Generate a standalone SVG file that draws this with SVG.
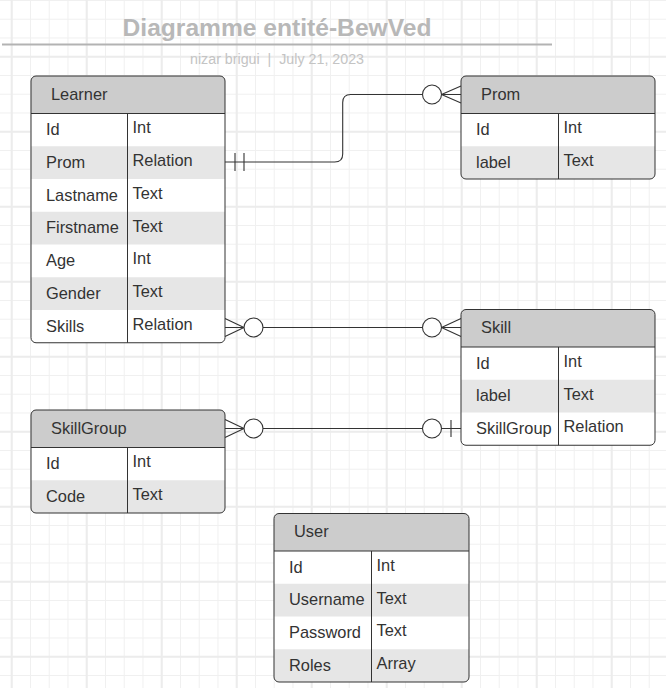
<svg xmlns="http://www.w3.org/2000/svg" width="666" height="688" viewBox="0 0 666 688">
<style>
.gt{stroke:#f0f0f0;stroke-width:1;fill:none}
.gk{stroke:#ececec;stroke-width:2;fill:none}
.hd{fill:#cccccc}
.alt{fill:#e6e6e6}
.body{fill:#ffffff}
.ol{fill:none;stroke:#333333;stroke-width:1}
.ln{stroke:#333333;stroke-width:1;fill:none}
.t{font-family:"Liberation Sans",Arial,sans-serif;font-size:16.4px;fill:#333333}
.cn{stroke:#333333;stroke-width:1.1;fill:none}
.cc{stroke:#333333;stroke-width:1.1;fill:#ffffff}
</style>
<defs>
<clipPath id="cLearner"><rect x="31" y="76" width="194" height="266.75" rx="5"/></clipPath>
<clipPath id="cProm"><rect x="461" y="76" width="194" height="103" rx="5"/></clipPath>
<clipPath id="cSkill"><rect x="461" y="309.5" width="194" height="135.75" rx="5"/></clipPath>
<clipPath id="cSG"><rect x="31" y="410" width="194" height="103" rx="5"/></clipPath>
<clipPath id="cUser"><rect x="274" y="513.5" width="195" height="168.5" rx="5"/></clipPath>
</defs>
<rect width="666" height="688" fill="#ffffff"/>
<g id="grid">
<path class="gt" d="M11.7,0V688M30.45,0V688M49.2,0V688M67.95,0V688M86.7,0V688M105.45,0V688M124.2,0V688M142.95,0V688M161.7,0V688M180.45,0V688M199.2,0V688M217.95,0V688M236.7,0V688M255.45,0V688M274.2,0V688M292.95,0V688M311.7,0V688M330.45,0V688M349.2,0V688M367.95,0V688M386.7,0V688M405.45,0V688M424.2,0V688M442.95,0V688M461.7,0V688M480.45,0V688M499.2,0V688M517.95,0V688M536.7,0V688M555.45,0V688M574.2,0V688M592.95,0V688M611.7,0V688M630.45,0V688M649.2,0V688
M0,0.45H666M0,19.2H666M0,37.95H666M0,56.7H666M0,75.45H666M0,94.2H666M0,112.95H666M0,131.7H666M0,150.45H666M0,169.2H666M0,187.95H666M0,206.7H666M0,225.45H666M0,244.2H666M0,262.95H666M0,281.7H666M0,300.45H666M0,319.2H666M0,337.95H666M0,356.7H666M0,375.45H666M0,394.2H666M0,412.95H666M0,431.7H666M0,450.45H666M0,469.2H666M0,487.95H666M0,506.7H666M0,525.45H666M0,544.2H666M0,562.95H666M0,581.7H666M0,600.45H666M0,619.2H666M0,637.95H666M0,656.7H666M0,675.45H666"/>
<path class="gk" d="M11.7,0V688M86.7,0V688M161.7,0V688M236.7,0V688M311.7,0V688M386.7,0V688M461.7,0V688M536.7,0V688M611.7,0V688M0,56.7H666M0,131.7H666M0,206.7H666M0,281.7H666M0,356.7H666M0,431.7H666M0,506.7H666M0,581.7H666M0,656.7H666"/>
</g>
<g id="title">
<text x="277" y="36" text-anchor="middle" font-family="'Liberation Sans',Arial,sans-serif" font-size="24.6" font-weight="bold" fill="#b8b8b8">Diagramme entité-BewVed</text>
<line x1="2" y1="44.5" x2="552" y2="44.5" stroke="#b3b3b3" stroke-width="2"/>
<text x="277" y="64" text-anchor="middle" font-family="'Liberation Sans',Arial,sans-serif" font-size="14" fill="#c4c4c4" textLength="174" lengthAdjust="spacingAndGlyphs" xml:space="preserve">nizar brigui  |  July 21, 2023</text>
</g>
<g id="connectors">
<path class="cn" d="M225,162H334.7Q342.7,162 342.7,154V102.5Q342.7,94.5 350.7,94.5H461"/>
<path class="cn" d="M235,153V171M244,153V171"/>
<path class="cn" d="M441.5,94.5L461,86M441.5,94.5L461,103"/>
<circle class="cc" cx="432" cy="94.5" r="9.5"/>
<path class="cn" d="M225,327.5H461M225,318.5L244,327.5L225,336.5M441.5,327.5L461,318.5M441.5,327.5L461,336.5"/>
<circle class="cc" cx="253.5" cy="327.5" r="9.5"/>
<circle class="cc" cx="432" cy="327.5" r="9.5"/>
<path class="cn" d="M225,428.5H461M225,419.5L244,428.5L225,437.5M451,420V437"/>
<circle class="cc" cx="253.5" cy="428.5" r="9.5"/>
<circle class="cc" cx="432" cy="428.5" r="9.5"/>
</g>
<g id="learner">
<g clip-path="url(#cLearner)">
<rect class="body" x="31" y="76" width="194" height="266.75"/>
<rect class="hd" x="31" y="76" width="194" height="37.5"/>
<rect class="alt" x="31" y="146.25" width="194" height="32.75"/>
<rect class="alt" x="31" y="211.75" width="194" height="32.75"/>
<rect class="alt" x="31" y="277.25" width="194" height="32.75"/>
</g>
<path class="ln" d="M31,113.5H225M127.5,113.5V342.75"/>
<rect class="ol" x="31" y="76" width="194" height="266.75" rx="5"/>
<text class="t" x="51" y="99.6">Learner</text>
<text class="t" x="46" y="135">Id</text><text class="t" x="132.5" y="133.3">Int</text>
<text class="t" x="46" y="167.8">Prom</text><text class="t" x="132.5" y="166">Relation</text>
<text class="t" x="46" y="200.5">Lastname</text><text class="t" x="132.5" y="198.8">Text</text>
<text class="t" x="46" y="233.3">Firstname</text><text class="t" x="132.5" y="231.5">Text</text>
<text class="t" x="46" y="266">Age</text><text class="t" x="132.5" y="264.3">Int</text>
<text class="t" x="46" y="298.8">Gender</text><text class="t" x="132.5" y="297">Text</text>
<text class="t" x="46" y="331.5">Skills</text><text class="t" x="132.5" y="329.8">Relation</text>
</g>
<g id="prom">
<g clip-path="url(#cProm)">
<rect class="body" x="461" y="76" width="194" height="103"/>
<rect class="hd" x="461" y="76" width="194" height="37.5"/>
<rect class="alt" x="461" y="146.25" width="194" height="32.75"/>
</g>
<path class="ln" d="M461,113.5H655M558.5,113.5V179"/>
<rect class="ol" x="461" y="76" width="194" height="103" rx="5"/>
<text class="t" x="481" y="99.6">Prom</text>
<text class="t" x="476" y="135">Id</text><text class="t" x="563.5" y="133.3">Int</text>
<text class="t" x="476" y="167.8">label</text><text class="t" x="563.5" y="166">Text</text>
</g>
<g id="skill">
<g clip-path="url(#cSkill)">
<rect class="body" x="461" y="309.5" width="194" height="135.75"/>
<rect class="hd" x="461" y="309.5" width="194" height="37.5"/>
<rect class="alt" x="461" y="379.75" width="194" height="32.75"/>
</g>
<path class="ln" d="M461,347H655M558.5,347V445.25"/>
<rect class="ol" x="461" y="309.5" width="194" height="135.75" rx="5"/>
<text class="t" x="481" y="333.1">Skill</text>
<text class="t" x="476" y="368.5">Id</text><text class="t" x="563.5" y="366.8">Int</text>
<text class="t" x="476" y="401.3">label</text><text class="t" x="563.5" y="399.5">Text</text>
<text class="t" x="476" y="434">SkillGroup</text><text class="t" x="563.5" y="432.3">Relation</text>
</g>
<g id="skillgroup">
<g clip-path="url(#cSG)">
<rect class="body" x="31" y="410" width="194" height="103"/>
<rect class="hd" x="31" y="410" width="194" height="37.5"/>
<rect class="alt" x="31" y="480.25" width="194" height="32.75"/>
</g>
<path class="ln" d="M31,447.5H225M127.5,447.5V513"/>
<rect class="ol" x="31" y="410" width="194" height="103" rx="5"/>
<text class="t" x="51" y="433.6">SkillGroup</text>
<text class="t" x="46" y="469">Id</text><text class="t" x="132.5" y="467.3">Int</text>
<text class="t" x="46" y="501.8">Code</text><text class="t" x="132.5" y="500">Text</text>
</g>
<g id="user">
<g clip-path="url(#cUser)">
<rect class="body" x="274" y="513.5" width="195" height="168.5"/>
<rect class="hd" x="274" y="513.5" width="195" height="37.5"/>
<rect class="alt" x="274" y="583.75" width="195" height="32.75"/>
<rect class="alt" x="274" y="649.25" width="195" height="32.75"/>
</g>
<path class="ln" d="M274,551H469M371.5,551V682"/>
<rect class="ol" x="274" y="513.5" width="195" height="168.5" rx="5"/>
<text class="t" x="294" y="537.1">User</text>
<text class="t" x="289" y="572.5">Id</text><text class="t" x="376.5" y="570.8">Int</text>
<text class="t" x="289" y="605.3">Username</text><text class="t" x="376.5" y="603.5">Text</text>
<text class="t" x="289" y="638">Password</text><text class="t" x="376.5" y="636.3">Text</text>
<text class="t" x="289" y="670.8">Roles</text><text class="t" x="376.5" y="669">Array</text>
</g>
</svg>
